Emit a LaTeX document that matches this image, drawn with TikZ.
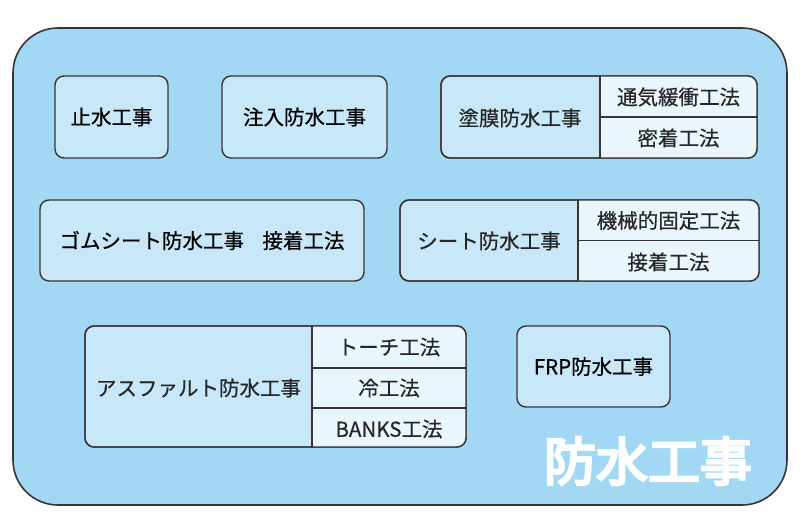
\documentclass[tikz,border=0pt]{standalone}
\usepackage{fontspec}
\setmainfont{Noto Sans CJK JP}
\newfontfamily\labelfont{Noto Sans CJK JP}[FakeBold=0.5]
\newfontfamily\titlefont{Noto Sans CJK JP}[FakeBold=5]
\usetikzlibrary{positioning,calc}

\definecolor{outerblue}{HTML}{A2D8F4}
\definecolor{boxblue}{HTML}{C8E8FA}
\definecolor{cellblue}{HTML}{EAF6FD}
\definecolor{edgegray}{HTML}{3A3333}

\begin{document}
\begin{tikzpicture}[x=1pt, y=-1pt,
    koji/.style={rectangle, draw=edgegray, line width=1.4pt, fill=boxblue, rounded corners=9pt, inner sep=0pt, outer sep=0pt, font=\labelfont\fontsize{20.5}{24}\selectfont},
    label/.style={inner sep=0pt, font=\labelfont\fontsize{20.5}{24}\selectfont, text=black!85},
    divider/.style={draw=edgegray, line width=1.2pt},
    cellfill/.style={fill=cellblue}
]
    \useasboundingbox (0,0) rectangle (800,532);

    % 外枠
    \node[draw=edgegray, line width=1.6pt, fill=outerblue, rounded corners=45pt, minimum width=774pt, minimum height=477pt, inner sep=0pt] (outer) at (400,266.5) {};

    % 単独の工事
    \node[koji, minimum width=113pt, minimum height=82pt] (shisui) at (111.5,117) {止水工事};
    \node[koji, minimum width=165pt, minimum height=82pt] (chunyu) at (304.5,117) {注入防水工事};
    \node[koji, minimum width=324pt, minimum height=81pt] (gomu) at (202,240.5) {ゴムシート防水工事\hspace{0.9em}接着工法};
    \node[koji, minimum width=153pt, minimum height=81pt] (frp) at (593.5,366.5) {FRP防水工事};

    % 塗膜防水工事
    \node[koji, minimum width=316pt, minimum height=82pt] (tomaku) at (599,117) {};
    \coordinate (tomakuD) at (600,76);
    \begin{scope}
        \clip[rounded corners=9pt] (tomaku.north west) rectangle (tomaku.south east);
        \fill[cellfill] (tomakuD) rectangle (tomaku.south east);
    \end{scope}
    \draw[divider] (tomakuD) -- (tomakuD |- tomaku.south);
    \draw[divider] (tomakuD |- tomaku.center) -- (tomaku.east);
    \draw[draw=edgegray, line width=1.4pt, rounded corners=9pt] (tomaku.north west) rectangle (tomaku.south east);
    \node[label] (tomakuL) at (520,118) {塗膜防水工事};
    \node[label] (tsuki) at (678.5,97) {通気緩衝工法};
    \node[label] (micchaku1) at (678.5,138) {密着工法};

    % シート防水工事
    \node[koji, minimum width=359pt, minimum height=81pt] (sheet) at (579.5,240.5) {};
    \coordinate (sheetD) at (578,200);
    \begin{scope}
        \clip[rounded corners=9pt] (sheet.north west) rectangle (sheet.south east);
        \fill[cellfill] (sheetD) rectangle (sheet.south east);
    \end{scope}
    \draw[divider] (sheetD) -- (sheetD |- sheet.south);
    \draw[divider] (sheetD |- sheet.center) -- (sheet.east);
    \draw[draw=edgegray, line width=1.4pt, rounded corners=9pt] (sheet.north west) rectangle (sheet.south east);
    \node[label] (sheetL) at (489,241) {シート防水工事};
    \node[label] (kikai) at (668.5,220.5) {機械的固定工法};
    \node[label] (setchaku) at (668.5,262) {接着工法};

    % アスファルト防水工事
    \node[koji, minimum width=381pt, minimum height=121pt] (asph) at (275.5,386.5) {};
    \coordinate (asphD) at (312,326);
    \coordinate (asphR1) at (312,368);
    \coordinate (asphR2) at (312,408);
    \begin{scope}
        \clip[rounded corners=9pt] (asph.north west) rectangle (asph.south east);
        \fill[cellfill] (asphD) rectangle (asph.south east);
    \end{scope}
    \draw[divider] (asphD) -- (asphD |- asph.south);
    \draw[divider] (asphR1) -- (asphR1 -| asph.east);
    \draw[divider] (asphR2) -- (asphR2 -| asph.east);
    \draw[draw=edgegray, line width=1.4pt, rounded corners=9pt] (asph.north west) rectangle (asph.south east);
    \node[label] (asphL) at (198.5,388) {アスファルト防水工事};
    \node[label] (torch) at (389,347) {トーチ工法};
    \node[label] (reiko) at (389,388) {冷工法};
    \node[label] (banks) at (389,429) {BANKS工法};

    % タイトル
    \node[inner sep=0pt, text=white, font=\titlefont\fontsize{52}{58}\selectfont] (title) at (648,461) {防水工事};

\end{tikzpicture}
\end{document}
